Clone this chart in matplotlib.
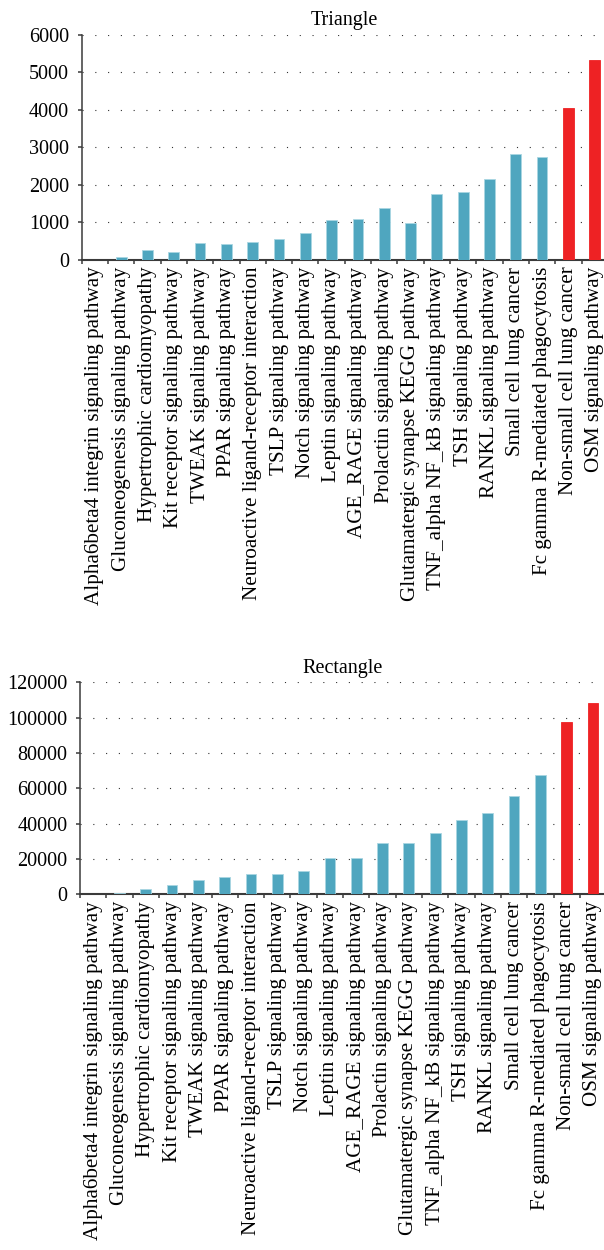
import matplotlib
matplotlib.use("Agg")
import matplotlib.pyplot as plt
import numpy as np

pathways = [
    "Alpha6beta4 integrin signaling pathway",
    "Gluconeogenesis signaling pathway",
    "Hypertrophic cardiomyopathy",
    "Kit receptor signaling pathway",
    "TWEAK signaling pathway",
    "PPAR signaling pathway",
    "Neuroactive ligand-receptor interaction",
    "TSLP signaling pathway",
    "Notch signaling pathway",
    "Leptin signaling pathway",
    "AGE_RAGE signaling pathway",
    "Prolactin signaling pathway",
    "Glutamatergic synapse KEGG pathway",
    "TNF_alpha NF_kB signaling pathway",
    "TSH signaling pathway",
    "RANKL signaling pathway",
    "Small cell lung cancer",
    "Fc gamma R-mediated phagocytosis",
    "Non-small cell lung cancer",
    "OSM signaling pathway",
]

triangle = [0, 80, 258, 214, 436, 418, 463, 561, 703, 1060,
            1086, 1380, 988, 1754, 1816, 2146, 2814, 2751, 4051, 5334]
rectangle = [0, 900, 3000, 5450, 8100, 9800, 11300, 11500, 13000, 20350,
             20350, 29250, 29250, 34900, 41900, 46050, 55650, 67750, 97550, 108300]

highlight = ["Non-small cell lung cancer", "OSM signaling pathway"]

teal = "#4fa6bf"
red = "#ee2224"
axis_col = "#3a3a3a"

plt.rcParams["font.family"] = ["Liberation Serif", "DejaVu Serif"]

fig = plt.figure(figsize=(6.04, 12.5), dpi=100)
ax1 = fig.add_axes([0.1353, 0.7922, 0.871, 0.1798])
ax2 = fig.add_axes([0.1325, 0.2846, 0.871, 0.1696])


def draw(ax, values, title, ymax, step):
    x = np.arange(len(pathways))
    colors = [red if p in highlight else teal for p in pathways]
    edges = [red if p in highlight else "#a9d6e2" for p in pathways]
    lw = [0.6 if v > 0 else 0 for v in values]
    ax.bar(x, values, width=0.41, color=colors, edgecolor=edges,
           linewidth=lw, zorder=3)
    ax.set_xlim(-0.5, len(pathways) - 0.5)
    ax.set_ylim(0, ymax)
    ax.set_yticks(np.arange(0, ymax + 1, step))
    ax.set_xticks(x)
    ax.set_xticklabels(pathways, rotation=90, fontsize=15.2)
    ax.set_xticks(np.arange(-0.5, len(pathways)), minor=True)
    ax.tick_params(axis="x", which="major", length=0, pad=5)
    ax.tick_params(axis="x", which="minor", length=3, width=1.1,
                   color=axis_col, direction="out")
    ax.tick_params(axis="y", length=3, width=1.1, color=axis_col,
                   labelsize=14.5, pad=6)
    for s in ("top", "right"):
        ax.spines[s].set_visible(False)
    ax.spines["left"].set_color(axis_col)
    ax.spines["left"].set_linewidth(1.1)
    ax.spines["bottom"].set_color(axis_col)
    ax.spines["bottom"].set_linewidth(1.5)
    ax.grid(axis="y", color="#333333", linewidth=0.8,
            linestyle=(0, (1, 10.5)), zorder=0)
    ax.set_title(title, fontsize=14.5, pad=7)


draw(ax1, triangle, "Triangle", 6000, 1000)
draw(ax2, rectangle, "Rectangle", 120000, 20000)

fig.savefig("out.png", dpi=100)
